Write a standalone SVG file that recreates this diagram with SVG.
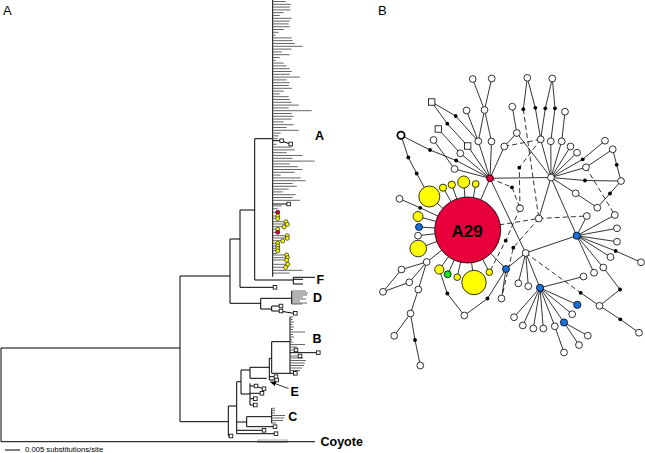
<svg xmlns="http://www.w3.org/2000/svg" width="645" height="453" viewBox="0 0 645 453">
<defs>
<style>
.t{fill:none;stroke:#000;stroke-width:1}
.tip{fill:none;stroke:#555;stroke-width:0.9}
.sqt{fill:#fff;stroke:#000;stroke-width:0.8}
.e{fill:none;stroke:#000;stroke-width:0.8}
.d{fill:none;stroke:#000;stroke-width:0.8;stroke-dasharray:5 3}
.w{fill:#fff;stroke:#000;stroke-width:0.8}
.k{fill:#000}
.y{fill:#ffff00;stroke:#000;stroke-width:0.8}
.b{fill:#1c6fd8;stroke:#000;stroke-width:0.8}
.r{fill:#e8003d;stroke:#000;stroke-width:0.8}
.g{fill:#1ee01e;stroke:#000;stroke-width:0.8}
.ty{fill:#ffff00;stroke:#000;stroke-width:0.6}
.tr{fill:#e8003d;stroke:#000;stroke-width:0.6}
.lab{font-family:"Liberation Sans",Arial,sans-serif;font-weight:bold;font-size:12.5px;fill:#000}
.pl{font-family:"Liberation Sans",Arial,sans-serif;font-size:13px;fill:#000}
</style>
<marker id="ah" viewBox="0 0 10 10" refX="9" refY="5" markerWidth="6" markerHeight="6" orient="auto" markerUnits="userSpaceOnUse">
<path d="M0,1L10,5L0,9z" fill="#000"/>
</marker>
</defs>
<rect width="645" height="453" fill="#fff"/>

<!-- Panel A: phylogenetic tree -->
<g id="panelA">
<text class="pl" x="3" y="15">A</text>
<g id="tree-branches">
<rect x="258" y="440" width="29" height="2.6" fill="none" stroke="#777" stroke-width="0.6"/>
<path class="t" d="M1,348V441.7M1,348H180M1,441.7H315M180,276V421.7M180,276H230M180,421.7H228.3M230,239V303.3M230,239H240M230,303.3H260.7M240,210V287.3M240,210H254.7M240,287.3H273.2M254.7,138.7V280M254.7,138.7H272.7M254.7,280H293.3M272.7,0V276.7M293.3,277.3V284M293.3,277.3H315M293.3,279.3H303M293.3,284H303"/>
<path class="t" d="M260.7,298.3V309M260.7,298.3H291.7M291.7,291V304M260.7,309H271.7M271.7,306V311M271.7,306H279.2M271.7,311H279.2M282.6,311.5L293.5,313.3"/>
<path class="tip" d="M291.7,291H306M291.7,293H308M291.7,295H307M291.7,297H303M291.7,299H306M291.7,301H300M291.7,303H307M291.7,304H302"/>
<path class="t" d="M228.3,406V436M228.3,406H236.7M228.3,436H229.2M236.7,381.7V433.7M236.7,381.7H241M236.7,422H246.7M236.7,430.3H262.2M236.7,433.7H274.2M246.7,416.7V426.7M246.7,416.7H271.7M246.7,426.7H273.2M271.7,408.3V423.3"/>
<path class="tip" d="M271.7,408.3H275M271.7,410.5H275M271.7,413H275M271.7,415.5H285M271.7,418H284M271.7,420.5H283M271.7,423H276"/>
<path class="t" d="M241,370V394M241,370H250M241,394H250M250,367.3V378.3M250,367.3H269.3M250,378.3H266.7M269.3,358.3V380M269.3,358.3H271.7M269.3,376.7H274.2M269.3,380H274.9M271.7,341.7V373.3M271.7,341.7H290M271.7,373.3H293.5M290,316.7V373.3M290,352.7H316.5"/>
<path class="tip" d="M290,317H293M290,319.5H292.5M290,322H294M290,324.5H292.5M290,327H294M290,329.5H293M290,332H305M290,334.5H293M290,337H294M290,339.5H292M290,342H293M290,344.5H305M290,347H297M290,350H294.2M290,356H298.2M290,358H303M290,360.5H306M290,363H305M290,365.5H304M290,368H302M290,370.5H300"/>
<path class="t" d="M250,383.3V405M250,386H254.2M257.8,386.7L262.2,388.5M250,393.3H260.2M250,398.7H253.5M250,405H253.5"/>
<path class="t" d="M272.7,140.7H279.9M283.4,141.5L288.9,143.6M272.7,204H286.9"/>
<path class="tip" d="M272.7,1.5h13M272.7,4.3h18M272.7,7.1h17M272.7,9.9h18M272.7,12.7h11M272.7,15.5h7M272.7,18.3h19M272.7,21.1h17M272.7,23.9h16M272.7,26.7h17M272.7,29.5h11M272.7,32.3h6M272.7,35.1h3M272.7,37.9h19M272.7,40.7h20M272.7,43.5h22M272.7,46.3h30M272.7,49.1h19M272.7,51.9h9M272.7,54.7h17M272.7,57.5h7M272.7,60.3h3M272.7,63.1h11M272.7,65.9h14M272.7,68.7h17M272.7,71.5h19M272.7,74.3h17M272.7,77.1h27M272.7,79.9h14M272.7,82.7h17M272.7,85.5h16M272.7,88.3h19M272.7,91.1h11M272.7,93.9h7M272.7,96.7h16M272.7,99.5h17M272.7,102.3h19M272.7,105.1h26M272.7,107.9h16M272.7,110.7h39M272.7,113.5h19M272.7,116.3h21M272.7,119.1h19M272.7,121.9h11M272.7,124.7h21M272.7,127.5h14M272.7,130.3h26M272.7,133.1h8M272.7,135.9h6M272.7,138.7h5M272.7,144.3h4M272.7,147.1h19M272.7,149.9h22M272.7,152.7h14M272.7,155.5h30M272.7,158.3h20M272.7,161.1h42M272.7,163.9h17M272.7,166.7h25M272.7,169.5h30M272.7,172.3h22M272.7,175.1h8M272.7,177.9h28M272.7,180.7h33M272.7,183.5h20M272.7,186.3h24M272.7,189.1h16M272.7,191.9h10M272.7,194.7h23M272.7,197.5h20M272.7,200.3h27M272.7,205.9h9M272.7,208.7h5M272.7,212.3h5M272.7,216h5M272.7,218.3h5M272.7,221.7h13M272.7,224h14M272.7,226.7h11M272.7,229.3h5M272.7,232.3h5M272.7,235.7h14M272.7,238h14M272.7,240.7h10M272.7,243.3h5M272.7,246h5M272.7,248.3h5M272.7,250.7h5M272.7,253.5h4M272.7,255h14M272.7,257.7h14M272.7,260h14M272.7,264.3h15M272.7,267.3h13M272.7,270.3h30M272.7,273.1h17"/>
</g>
<g id="tree-squares">
<rect class="sqt" x="279.9" y="138.9" width="3.6" height="3.6"/>
<rect class="sqt" x="288.9" y="142.2" width="3.6" height="3.6"/>
<rect class="sqt" x="286.9" y="202.2" width="3.6" height="3.6"/>
<rect class="sqt" x="273.2" y="285.5" width="3.6" height="3.6"/>
<rect class="sqt" x="279.2" y="304.2" width="3.6" height="3.6"/>
<rect class="sqt" x="279.2" y="309.2" width="3.6" height="3.6"/>
<rect class="sqt" x="293.5" y="311.5" width="3.6" height="3.6"/>
<rect class="sqt" x="294.2" y="348.2" width="3.6" height="3.6"/>
<rect class="sqt" x="298.2" y="354.2" width="3.6" height="3.6"/>
<rect class="sqt" x="316.5" y="350.9" width="3.6" height="3.6"/>
<rect class="sqt" x="293.5" y="371.5" width="3.6" height="3.6"/>
<rect class="sqt" x="274.2" y="374.9" width="3.6" height="3.6"/>
<rect class="sqt" x="274.9" y="378.2" width="3.6" height="3.6"/>
<rect class="sqt" x="254.2" y="384.2" width="3.6" height="3.6"/>
<rect class="sqt" x="262.2" y="386.9" width="3.6" height="3.6"/>
<rect class="sqt" x="260.2" y="391.5" width="3.6" height="3.6"/>
<rect class="sqt" x="253.5" y="396.9" width="3.6" height="3.6"/>
<rect class="sqt" x="253.5" y="403.2" width="3.6" height="3.6"/>
<rect class="sqt" x="273.2" y="424.9" width="3.6" height="3.6"/>
<rect class="sqt" x="262.2" y="428.5" width="3.6" height="3.6"/>
<rect class="sqt" x="274.2" y="431.9" width="3.6" height="3.6"/>
<rect class="sqt" x="229.2" y="434.2" width="3.6" height="3.6"/>
</g>
<g id="tree-dots">
<circle class="tr" cx="277.7" cy="212.3" r="2"/>
<circle class="ty" cx="277.7" cy="216" r="2"/>
<circle class="ty" cx="277.7" cy="218.6" r="2"/>
<circle class="ty" cx="286" cy="221.7" r="2"/>
<circle class="ty" cx="287.3" cy="224.3" r="2"/>
<circle class="ty" cx="284" cy="227" r="2"/>
<circle class="ty" cx="277.7" cy="229.3" r="2"/>
<circle class="tr" cx="277.7" cy="232.3" r="2"/>
<circle class="ty" cx="287.3" cy="235.7" r="2"/>
<circle class="ty" cx="287.3" cy="238.3" r="2"/>
<circle class="ty" cx="282.7" cy="240.9" r="2"/>
<circle class="ty" cx="277.7" cy="243.3" r="2"/>
<circle class="ty" cx="277.7" cy="245.9" r="2"/>
<circle class="ty" cx="277.7" cy="248.4" r="2"/>
<circle class="ty" cx="277.7" cy="250.9" r="2"/>
<circle class="ty" cx="286.7" cy="255" r="2"/>
<circle class="ty" cx="287.3" cy="257.7" r="2"/>
<circle class="ty" cx="286.7" cy="260.3" r="2"/>
<circle class="ty" cx="287.7" cy="264.3" r="2"/>
<circle class="ty" cx="285.7" cy="267.3" r="2"/>
</g>
<g id="clade-labels">
<text class="lab" x="315" y="140">A</text>
<text class="lab" x="316.5" y="284">F</text>
<text class="lab" x="313" y="301.7">D</text>
<text class="lab" x="312.5" y="343.3">B</text>
<text class="lab" x="290.5" y="395.7">E</text>
<text class="lab" x="288.3" y="420.7">C</text>
<text class="lab" x="320.5" y="446">Coyote</text>
<path class="e" d="M288.5,388.5L270.5,382" stroke-width="0.9" marker-end="url(#ah)"/>
</g>
<g id="scale-bar">
<path class="t" d="M5,450H20"/>
<text x="25" y="452" font-family="Liberation Sans, Arial, sans-serif" font-size="7.7">0.005 substitutions/site</text>
</g>
</g>

<!-- Panel B: haplotype network -->
<g id="panelB">
<text class="pl" x="378" y="14.5">B</text>
<g id="connectors">
<path class="e" d="M467.7,230L429.3,196.5M467.7,230L443,187.7M467.7,230L451.8,184.7M467.7,230L463.7,182M467.7,230L475.7,184M467.7,230L418,216.5M467.7,230L419,227M467.7,230L418,235.7M467.7,230L418.2,248.5M467.7,230L426.7,262M467.7,230L439.3,269.5M467.7,230L447.7,274.3M467.7,230L457.2,277.2M467.7,230L474,282.5M467.7,230L489.3,272.2M467.7,230L506,269M467.7,230L420.2,207.8M467.7,230L490,178.3
M420.2,207.8L399.5,198.8
M401,135.3L408.3,157.5L416.7,173.5L429.3,196.5
M401,135.3L430,150L456.2,160.5L490,178.3
M472.7,79L484.5,110M491.7,78.5L484.5,110M484.5,110L478.3,141.3M484.5,110L491.5,141.5M466.5,110.5L478.3,141.3M478.3,141.3L490,178.3M491.5,141.5L490,178.3M504.3,146.5L490,178.3M460.3,153.3L490,178.3M454.5,169L490,178.3M467.7,146L490,178.3
M431.7,102L455.7,116L478.3,141.3M431.7,102L447.3,123.7L467.7,146M438.3,129L460.3,153.3M433.5,140L454.5,169
M512.3,106.7L516.8,133L504.3,146.5M516.8,133L551,177.5
M527.3,77.8L523.3,109.2M527.3,77.8L535.3,107.8L540.7,139.3M552.3,78.5L545.3,108.3L540.7,139.3M552.3,78.5L555,108.3L550.8,141.3M565,111.7L561.7,141.3
M551,177.5L540.7,139.3M551,177.5L550.8,141.3M551,177.5L561.7,141.3M551,177.5L570.5,146.5M551,177.5L577,152.7M551,177.5L582.7,159.3L605,140.7M551,177.5L586,167.3L612.7,149.3L616.7,164.8L621,181M551,177.5L585,180.5L621,181M621,181L610,193.5L597.3,207.7L575.7,193.3L551,177.5M551,177.5L538.8,218.5M551,177.5L576.7,235.7M551,177.5L490,178.3
M490,178.3L525.7,253
M525.7,253L576.7,235.7M525.7,253L506,269M525.7,253L518.3,283.3M525.7,253L528.3,286.2M525.7,253L540,287.8
M506,269L501.5,298.5M506,269L487.5,298.5L464.3,315.5L447.3,293.5L439.3,269.5
M576.7,235.7L614.8,215M576.7,235.7L617,228.3M576.7,235.7L617,241.7M576.7,235.7L615.7,251L641,262.3M576.7,235.7L610.5,257M576.7,235.7L603.3,267.5L620,289.5L599.5,305.8M576.7,235.7L594,272.8M576.7,235.7L586.8,216
M580.7,292.8L599.5,305.8L620.3,319.3L639,332.7
M540,287.8L583.5,276.5M540,287.8L514,317.2M540,287.8L522.8,325.5M540,287.8L533.3,328.5M540,287.8L543.3,328.5M540,287.8L554.8,326.3L564,352.5M540,287.8L564,322.5M540,287.8L572.2,314.2M540,287.8L577.3,304.8
M564,322.5L587.8,335.7M564,322.5L579,345
M426.7,262L401.5,269.5L383,291.8L409.3,282.3L426.7,262M426.7,262L418.3,289.5L410.5,313.5L394.2,335.8M410.5,313.5L415,340L420.3,365.5"/>
<path class="d" d="M490,178.3L512,187.3L520,208.3M504.3,146.5L540.7,139.3M540.7,139.3L519.3,167.7L520,208.3M523.3,109.2L538.8,218.5M467.7,230L538.8,218.5L586.8,216M586,167.3L614.8,215M525.7,253L580.7,292.8M520,208.3L505.7,240.7L489.3,272.2M538.8,218.5L513.3,247.7L501.5,298.5"/>
</g>

<g id="A29"><circle class="r" cx="467.7" cy="230" r="33"/><text x="467.2" y="236.5" text-anchor="middle" font-family="Liberation Sans, Arial, sans-serif" font-weight="bold" font-size="17">A29</text></g>
<g id="H1"><circle class="r" cx="490" cy="178.3" r="3.4"/></g>
<g id="H2"><circle class="w" cx="551" cy="177.5" r="3.4"/></g>
<g id="H3"><circle class="w" cx="525.7" cy="253" r="3.4"/></g>
<g id="y1"><circle class="y" cx="429.3" cy="196.5" r="10.5"/></g>
<g id="y2"><circle class="y" cx="443" cy="187.7" r="3.6"/></g>
<g id="y3"><circle class="y" cx="451.8" cy="184.7" r="3.6"/></g>
<g id="y4"><circle class="y" cx="463.7" cy="182" r="6"/></g>
<g id="y5"><circle class="y" cx="475.7" cy="184" r="3.4"/></g>
<g id="y6"><circle class="y" cx="418" cy="216.5" r="5"/></g>
<g id="y7"><circle class="y" cx="418.2" cy="248.5" r="8.3"/></g>
<g id="y8"><circle class="y" cx="439.3" cy="269.5" r="4.6"/></g>
<g id="y9"><circle class="y" cx="457.2" cy="277.2" r="3.3"/></g>
<g id="y10"><circle class="y" cx="474" cy="282.5" r="12.2"/></g>
<g id="y11"><circle class="y" cx="489.3" cy="272.2" r="3.3"/></g>
<g id="g1"><circle class="g" cx="447.7" cy="274.3" r="3.5"/></g>
<g id="b1"><circle class="b" cx="419" cy="227" r="3.5"/></g>
<g id="b2"><circle class="b" cx="506" cy="269" r="3.5"/></g>
<g id="b3"><circle class="b" cx="576.7" cy="235.7" r="3.6"/></g>
<g id="b4"><circle class="b" cx="540" cy="287.8" r="3.6"/></g>
<g id="b5"><circle class="b" cx="577.3" cy="304.8" r="3.6"/></g>
<g id="b6"><circle class="b" cx="564" cy="322.5" r="3.6"/></g>
<g id="s1"><rect class="w" x="428.5" y="98.8" width="6.4" height="6.4"/></g>
<g id="s2"><rect class="w" x="435.1" y="125.8" width="6.4" height="6.4"/></g>
<g id="s3"><rect class="w" x="464.5" y="142.8" width="6.4" height="6.4"/></g>
<g id="ring"><circle cx="401" cy="135.3" r="3.6" fill="#fff" stroke="#000" stroke-width="1.8"/></g>
<g id="w1"><circle class="w" cx="472.7" cy="79" r="3.4"/></g>
<g id="w2"><circle class="w" cx="491.7" cy="78.5" r="3.4"/></g>
<g id="w3"><circle class="w" cx="527.3" cy="77.8" r="3.4"/></g>
<g id="w4"><circle class="w" cx="552.3" cy="78.5" r="3.4"/></g>
<g id="w5"><circle class="w" cx="466.5" cy="110.5" r="3.4"/></g>
<g id="w6"><circle class="w" cx="484.5" cy="110" r="3.4"/></g>
<g id="w7"><circle class="w" cx="512.3" cy="106.7" r="3.4"/></g>
<g id="w8"><circle class="w" cx="565" cy="111.7" r="3.4"/></g>
<g id="w9"><circle class="w" cx="433.5" cy="140" r="3.4"/></g>
<g id="w10"><circle class="w" cx="478.3" cy="141.3" r="3.4"/></g>
<g id="w11"><circle class="w" cx="491.5" cy="141.5" r="3.4"/></g>
<g id="w12"><circle class="w" cx="504.3" cy="146.5" r="3.4"/></g>
<g id="w13"><circle class="w" cx="460.3" cy="153.3" r="3.4"/></g>
<g id="w14"><circle class="w" cx="454.5" cy="169" r="3.4"/></g>
<g id="w15"><circle class="w" cx="516.8" cy="133" r="3.4"/></g>
<g id="w16"><circle class="w" cx="540.7" cy="139.3" r="3.4"/></g>
<g id="w17"><circle class="w" cx="550.8" cy="141.3" r="3.4"/></g>
<g id="w18"><circle class="w" cx="561.7" cy="141.3" r="3.4"/></g>
<g id="w19"><circle class="w" cx="570.5" cy="146.5" r="3.4"/></g>
<g id="w20"><circle class="w" cx="577" cy="152.7" r="3.4"/></g>
<g id="w21"><circle class="w" cx="586" cy="167.3" r="3.4"/></g>
<g id="w22"><circle class="w" cx="605" cy="140.7" r="3.4"/></g>
<g id="w23"><circle class="w" cx="612.7" cy="149.3" r="3.4"/></g>
<g id="w24"><circle class="w" cx="621" cy="181" r="3.4"/></g>
<g id="w25"><circle class="w" cx="597.3" cy="207.7" r="3.4"/></g>
<g id="w26"><circle class="w" cx="575.7" cy="193.3" r="3.4"/></g>
<g id="w27"><circle class="w" cx="520" cy="208.3" r="3.4"/></g>
<g id="w28"><circle class="w" cx="538.8" cy="218.5" r="3.4"/></g>
<g id="w29"><circle class="w" cx="586.8" cy="216" r="3.4"/></g>
<g id="w30"><circle class="w" cx="614.8" cy="215" r="3.4"/></g>
<g id="w31"><circle class="w" cx="617" cy="228.3" r="3.4"/></g>
<g id="w32"><circle class="w" cx="617" cy="241.7" r="3.4"/></g>
<g id="w33"><circle class="w" cx="641" cy="262.3" r="3.4"/></g>
<g id="w34"><circle class="w" cx="610.5" cy="257" r="3.4"/></g>
<g id="w35"><circle class="w" cx="603.3" cy="267.5" r="3.4"/></g>
<g id="w36"><circle class="w" cx="594" cy="272.8" r="3.4"/></g>
<g id="w37"><circle class="w" cx="583.5" cy="276.5" r="3.4"/></g>
<g id="w38"><circle class="w" cx="599.5" cy="305.8" r="3.4"/></g>
<g id="w39"><circle class="w" cx="639" cy="332.7" r="3.4"/></g>
<g id="w40"><circle class="w" cx="518.3" cy="283.3" r="3.4"/></g>
<g id="w41"><circle class="w" cx="528.3" cy="286.2" r="3.4"/></g>
<g id="w42"><circle class="w" cx="501.5" cy="298.5" r="3.4"/></g>
<g id="w43"><circle class="w" cx="514" cy="317.2" r="3.4"/></g>
<g id="w44"><circle class="w" cx="522.8" cy="325.5" r="3.4"/></g>
<g id="w45"><circle class="w" cx="533.3" cy="328.5" r="3.4"/></g>
<g id="w46"><circle class="w" cx="543.3" cy="328.5" r="3.4"/></g>
<g id="w47"><circle class="w" cx="554.8" cy="326.3" r="3.4"/></g>
<g id="w48"><circle class="w" cx="572.2" cy="314.2" r="3.4"/></g>
<g id="w49"><circle class="w" cx="587.8" cy="335.7" r="3.4"/></g>
<g id="w50"><circle class="w" cx="579" cy="345" r="3.4"/></g>
<g id="w51"><circle class="w" cx="564" cy="352.5" r="3.4"/></g>
<g id="w53"><circle class="w" cx="399.5" cy="198.8" r="3.4"/></g>
<g id="w54"><circle class="w" cx="418" cy="235.7" r="3.4"/></g>
<g id="w55"><circle class="w" cx="426.7" cy="262" r="3.4"/></g>
<g id="w56"><circle class="w" cx="401.5" cy="269.5" r="3.4"/></g>
<g id="w57"><circle class="w" cx="383" cy="291.8" r="3.4"/></g>
<g id="w58"><circle class="w" cx="409.3" cy="282.3" r="3.4"/></g>
<g id="w59"><circle class="w" cx="418.3" cy="289.5" r="3.4"/></g>
<g id="w60"><circle class="w" cx="410.5" cy="313.5" r="3.4"/></g>
<g id="w61"><circle class="w" cx="394.2" cy="335.8" r="3.4"/></g>
<g id="w62"><circle class="w" cx="420.3" cy="365.5" r="3.4"/></g>
<g id="w63"><circle class="w" cx="464.3" cy="315.5" r="3.4"/></g>
<g id="k1"><circle class="k" cx="523.3" cy="109.2" r="1.9"/></g>
<g id="k2"><circle class="k" cx="535.3" cy="107.8" r="1.9"/></g>
<g id="k3"><circle class="k" cx="545.3" cy="108.3" r="1.9"/></g>
<g id="k4"><circle class="k" cx="555" cy="108.3" r="1.9"/></g>
<g id="k5"><circle class="k" cx="455.7" cy="116" r="1.9"/></g>
<g id="k6"><circle class="k" cx="447.3" cy="123.7" r="1.9"/></g>
<g id="k7"><circle class="k" cx="430" cy="150" r="1.9"/></g>
<g id="k8"><circle class="k" cx="456.2" cy="160.5" r="1.9"/></g>
<g id="k9"><circle class="k" cx="408.3" cy="157.5" r="1.9"/></g>
<g id="k10"><circle class="k" cx="416.7" cy="173.5" r="1.9"/></g>
<g id="k11"><circle class="k" cx="519.3" cy="167.7" r="1.9"/></g>
<g id="k12"><circle class="k" cx="512" cy="187.3" r="1.9"/></g>
<g id="k13"><circle class="k" cx="582.7" cy="159.3" r="1.9"/></g>
<g id="k14"><circle class="k" cx="616.7" cy="164.8" r="1.9"/></g>
<g id="k15"><circle class="k" cx="585" cy="180.5" r="1.9"/></g>
<g id="k16"><circle class="k" cx="610" cy="193.5" r="1.9"/></g>
<g id="k17"><circle class="k" cx="420.2" cy="207.8" r="1.9"/></g>
<g id="k18"><circle class="k" cx="505.7" cy="240.7" r="1.9"/></g>
<g id="k19"><circle class="k" cx="513.3" cy="247.7" r="1.9"/></g>
<g id="k20"><circle class="k" cx="615.7" cy="251" r="1.9"/></g>
<g id="k21"><circle class="k" cx="580.7" cy="292.8" r="1.9"/></g>
<g id="k22"><circle class="k" cx="620" cy="289.5" r="1.9"/></g>
<g id="k23"><circle class="k" cx="620.3" cy="319.3" r="1.9"/></g>
<g id="k24"><circle class="k" cx="447.3" cy="293.5" r="1.9"/></g>
<g id="k25"><circle class="k" cx="487.5" cy="298.5" r="1.9"/></g>
<g id="k26"><circle class="k" cx="415" cy="340" r="1.9"/></g>
</g>
</svg>
